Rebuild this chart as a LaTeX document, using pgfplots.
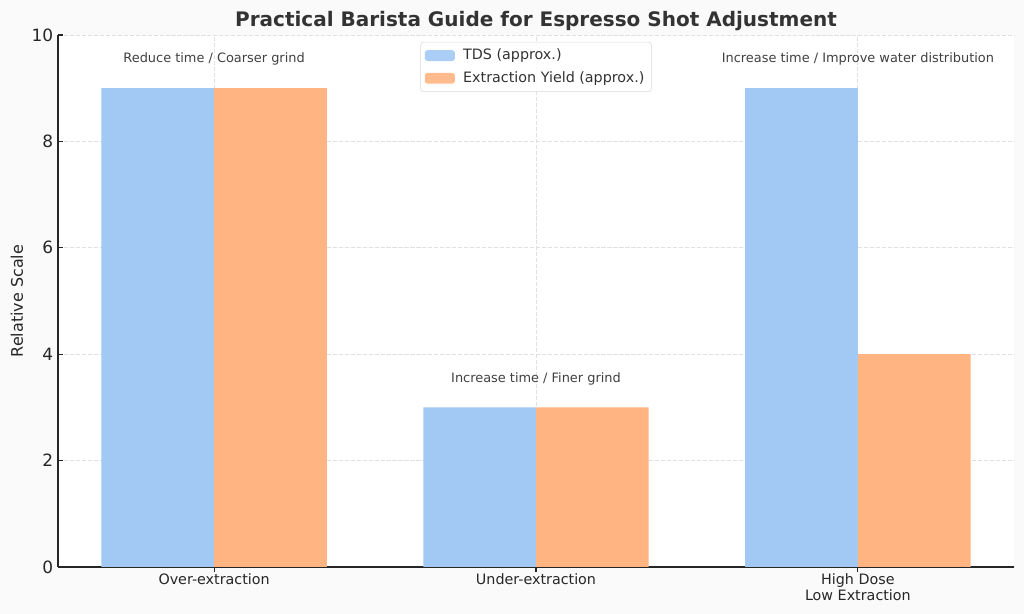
\documentclass[border=0pt]{standalone}
\usepackage{fontspec}
\setmainfont{DejaVu Sans}
\usepackage{pgfplots}
\pgfplotsset{compat=1.18}
\definecolor{bgc}{HTML}{FAFAFA}
\definecolor{tdsc}{HTML}{A1C9F4}
\definecolor{eyc}{HTML}{FFB482}
\definecolor{txt}{HTML}{333333}
\definecolor{gridc}{HTML}{E0E0E0}
\begin{document}
\begin{tikzpicture}
\fill[bgc] (0,0) rectangle (737.28pt,442.08pt);
\node[font=\fontsize{14.4}{16}\selectfont\bfseries, text=txt, anchor=center, inner sep=0pt] at (385.92pt,427.0pt) {Practical Barista Guide for Espresso Shot Adjustment};
\begin{axis}[
  at={(41.76pt,33.84pt)}, anchor=south west,
  scale only axis, width=688.32pt, height=383.04pt,
  xmin=-0.485, xmax=2.485, ymin=0, ymax=10,
  axis background/.style={fill=white},
  axis x line*=bottom, axis y line*=left,
  axis line style={black!85, line width=0.8pt},
  tick align=inside, major tick length=3.5pt,
  tick style={black!85, line width=0.8pt},
  xtick={0,1,2},
  xticklabels={Over-extraction, Under-extraction, {High Dose\\Low Extraction}},
  xticklabel style={align=center, font=\fontsize{10.3}{11.5}\selectfont, text=black!85, yshift=2pt},
  ytick={0,2,4,6,8,10},
  yticklabel style={font=\fontsize{12.2}{14}\selectfont, text=black!85},
  /pgf/number format/assume math mode=true,
  grid=major,
  grid style={gridc, dash pattern=on 3pt off 1.3pt, line width=0.6pt},
  ylabel={Relative Scale},
  ylabel style={at={(axis description cs:0,0.5)}, anchor=center, yshift=29.5pt, font=\fontsize{11.5}{13}\selectfont, text=black!85},
  ybar, bar width=0.35,
  clip=false,
  legend style={at={(axis description cs:0.5,0.987)}, anchor=north,
    draw=black!15, rounded corners=2pt, fill=white, fill opacity=0.9, text opacity=1,
    font=\fontsize{10.3}{12}\selectfont, text=txt, row sep=3pt, column sep=4pt,
    inner xsep=3pt, inner ysep=3pt},
  legend cell align=left,
]
\addplot[fill=tdsc, draw=none, bar shift=-0.175,
  legend image code/.code={\fill[tdsc] (0pt,-3.9pt) rectangle (21.6pt,3.9pt);}]
  coordinates {(0,9) (1,3) (2,9)};
\addlegendentry{TDS (approx.)}
\addplot[fill=eyc, draw=none, bar shift=0.175,
  legend image code/.code={\fill[eyc] (0pt,-3.9pt) rectangle (21.6pt,3.9pt);}]
  coordinates {(0,9) (1,3) (2,4)};
\addlegendentry{Extraction Yield (approx.)}
\begin{scope}[every node/.style={anchor=south, inner sep=0pt, yshift=-3pt, font=\fontsize{9.3}{11}\selectfont, text=black!75}]
\node at (axis cs:0,9.5) {Reduce time / Coarser grind};
\node at (axis cs:1,3.5) {Increase time / Finer grind};
\node at (axis cs:2,9.5) {Increase time / Improve water distribution};
\end{scope}
\end{axis}
\end{tikzpicture}
\end{document}
